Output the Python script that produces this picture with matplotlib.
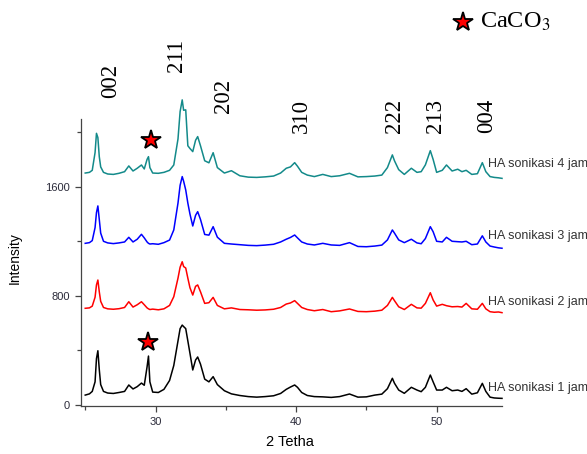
import matplotlib
matplotlib.use("Agg")
import matplotlib.pyplot as plt
from matplotlib.ticker import MultipleLocator

plt.rcParams['font.family'] = ['Liberation Sans', 'DejaVu Sans']
plt.rcParams['mathtext.fontset'] = 'stix'

# 2-theta grid (denser around the peaks)
two_theta = [25.0, 25.3, 25.5, 25.7, 25.8, 25.9, 26.0, 26.1, 26.3, 26.6,
             27.0, 27.4, 27.8, 28.1, 28.4, 28.7, 29.0, 29.2, 29.4, 29.5,
             29.6, 29.8, 30.2, 30.6, 31.0, 31.3, 31.6, 31.75, 31.9, 32.0,
             32.15, 32.3, 32.45, 32.65, 32.85, 33.0, 33.2, 33.5, 33.8, 34.1,
             34.4, 34.9, 35.4, 36.0, 36.6, 37.2, 37.8, 38.4, 38.9, 39.3,
             39.6, 39.9, 40.1, 40.4, 40.8, 41.3, 41.9, 42.5, 43.1, 43.8,
             44.4, 45.0, 45.6, 46.1, 46.5, 46.85, 47.0, 47.3, 47.7, 48.2,
             48.6, 48.9, 49.2, 49.55, 49.75, 50.0, 50.4, 50.7, 51.1, 51.5,
             51.8, 52.1, 52.5, 52.9, 53.25, 53.5, 53.8, 54.1, 54.4, 54.65]

# intensities as plotted (already stacked)
jam1 = [73, 82, 100, 170, 340, 398, 260, 150, 100, 88,
        85, 92, 100, 147, 118, 135, 161, 145, 280, 359,
        170, 95, 92, 115, 180, 290, 470, 560, 586, 575,
        560, 470, 380, 257, 330, 352, 300, 190, 170, 208,
        150, 105, 82, 70, 62, 58, 62, 68, 85, 115,
        132, 147, 130, 92, 70, 62, 60, 56, 62, 81,
        58, 60, 73, 80, 120, 196, 160, 110, 86, 130,
        110, 98, 130, 220, 170, 110, 110, 130, 105, 110,
        100, 120, 80, 90, 159, 100, 58, 52, 50, 49]

jam2 = [709, 712, 725, 790, 880, 916, 830, 760, 715, 705,
        702, 706, 715, 757, 718, 735, 757, 735, 712, 705,
        700, 703, 698, 705, 730, 794, 930, 1010, 1050, 1015,
        1004, 930, 860, 806, 870, 880, 830, 745, 750, 789,
        730, 705, 712, 700, 698, 695, 697, 702, 715, 740,
        748, 765, 745, 715, 700, 691, 700, 684, 690, 704,
        686, 684, 688, 695, 730, 789, 765, 720, 700, 738,
        712, 710, 745, 823, 770, 725, 738, 728, 720, 722,
        718, 745, 705, 702, 745, 705, 684, 680, 682, 677]

jam3 = [1185, 1190, 1205, 1300, 1410, 1459, 1360, 1260, 1200, 1188,
        1183, 1188, 1195, 1229, 1195, 1215, 1251, 1225, 1195, 1185,
        1180, 1182, 1178, 1190, 1209, 1283, 1480, 1610, 1674, 1640,
        1576, 1480, 1400, 1312, 1390, 1417, 1360, 1250, 1245, 1307,
        1230, 1185, 1180, 1175, 1170, 1168, 1172, 1178, 1195, 1215,
        1228, 1246, 1225, 1195, 1180, 1173, 1185, 1173, 1170, 1190,
        1162, 1160, 1165, 1172, 1210, 1283, 1260, 1210, 1190, 1215,
        1188, 1182, 1220, 1307, 1270, 1200, 1195, 1229, 1200, 1197,
        1195, 1200, 1175, 1180, 1240, 1195, 1165, 1158, 1152, 1149]

jam4 = [1700, 1705, 1720, 1850, 1991, 1960, 1820, 1745, 1705, 1693,
        1690, 1698, 1710, 1752, 1715, 1735, 1759, 1730, 1800, 1820,
        1740, 1700, 1698, 1705, 1720, 1759, 1950, 2150, 2236, 2160,
        2163, 1900, 1880, 1857, 1940, 1967, 1900, 1790, 1775, 1849,
        1740, 1700, 1717, 1680, 1670, 1668, 1672, 1678, 1700, 1735,
        1745, 1776, 1750, 1705, 1685, 1674, 1690, 1674, 1680, 1698,
        1672, 1674, 1678, 1685, 1740, 1833, 1790, 1725, 1690, 1735,
        1705, 1710, 1760, 1864, 1800, 1705, 1720, 1759, 1715, 1728,
        1710, 1720, 1690, 1695, 1776, 1710, 1674, 1668, 1665, 1661]

series = [jam1, jam2, jam3, jam4]
names = ['HA sonikasi 1 jam', 'HA sonikasi 2 jam', 'HA sonikasi 3 jam', 'HA sonikasi 4 jam']
colors = ['black', '#ff0000', '#0000ff', '#138a8a']
name_y = [125, 755, 1239, 1767]

# Miller indices and where their labels sit
hkl = ['002', '211', '202', '310', '222', '213', '004']
hkl_x = [26.78, 31.47, 34.81, 40.36, 47.0, 49.91, 53.54]
hkl_y = [2250, 2441, 2140, 1994, 1994, 1994, 1994]

# CaCO3 markers
caco3_x = [29.5, 29.67]
caco3_y = [464, 1942]

fig = plt.figure(figsize=(5.87, 4.54), dpi=100)
ax = fig.add_axes([0.138, 0.1057, 0.7172, 0.6322])

for y, c in zip(series, colors):
    ax.plot(two_theta, y, color=c, lw=1.1, clip_on=False)

for n, yy, c in zip(names, name_y, colors):
    ax.text(53.65, yy, n, fontsize=9, color='#333333', va='center', ha='left', clip_on=False)

for t, xx, yy in zip(hkl, hkl_x, hkl_y):
    ax.text(xx, yy, t, rotation=90, ha='center', va='bottom', fontsize=16.5,
            family='Liberation Serif', clip_on=False)

ax.plot(caco3_x, caco3_y, ls='none', marker='*', ms=15, mfc='red', mec='black', mew=1.3, zorder=5)

# legend for the star, above the plot
ax.plot([51.87], [2807], ls='none', marker='*', ms=15, mfc='red', mec='black', mew=1.3, clip_on=False)
ax.text(53.08, 2807, r'CaCO$_\mathrm{3}$', fontsize=17.5, family='Liberation Serif',
        va='center', ha='left', clip_on=False)

ax.set_xlim(24.7, 54.65)
ax.set_ylim(-7, 2096)
ax.xaxis.set_major_locator(MultipleLocator(10))
ax.xaxis.set_minor_locator(MultipleLocator(5))
ax.yaxis.set_major_locator(MultipleLocator(800))
ax.yaxis.set_minor_locator(MultipleLocator(400))
ax.tick_params(which='major', length=4, width=0.9, color='#444444', labelsize=8,
               labelcolor='#2b2b3a', pad=4)
ax.tick_params(which='minor', length=3, width=0.9, color='#444444')

for s in ['top', 'right']:
    ax.spines[s].set_visible(False)
for s in ['left', 'bottom']:
    ax.spines[s].set_color('#444444')
    ax.spines[s].set_linewidth(0.9)

ax.set_xlabel('2 Tetha', fontsize=10.5)
ax.set_ylabel('Intensity', fontsize=10)
ax.xaxis.set_label_coords(0.496, -0.10)
ax.yaxis.set_label_coords(-0.14, 0.516)

fig.savefig('out.png', dpi=100)
